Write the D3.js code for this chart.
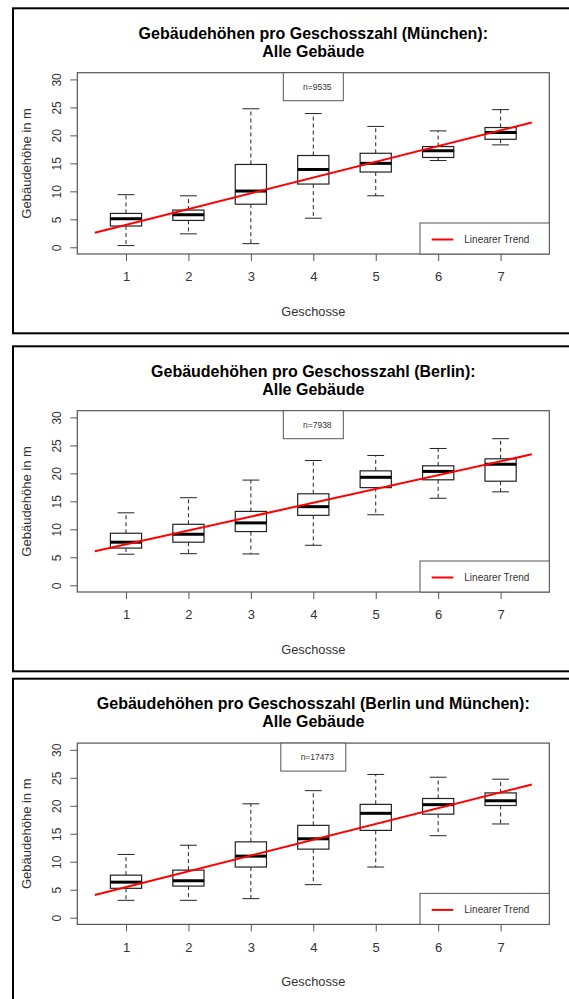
<!DOCTYPE html>
<html>
<head>
<meta charset="utf-8">
<script src="https://cdn.jsdelivr.net/npm/d3@7"></script>
<style>
  html, body { margin: 0; padding: 0; background: #fff; }
  svg { display: block; font-family: "Liberation Sans", Arial, sans-serif; }
</style>
</head>
<body>
<svg id="chart" width="569" height="999"></svg>
<script>
// Number of storeys (x categories)
const geschosse = [1, 2, 3, 4, 5, 6, 7];
const yTicks = [0, 5, 10, 15, 20, 25, 30];

// München: five-number summaries per storey count
const muenchenLow    = [0.3, 2.4, 0.65, 5.2, 9.2, 15.5, 18.3];
const muenchenQ1     = [3.8, 4.8, 7.7, 11.3, 13.45, 16.05, 19.3];
const muenchenMedian = [5.1, 5.8, 10.05, 13.9, 15.0, 17.25, 20.5];
const muenchenQ3     = [6.05, 6.65, 14.8, 16.4, 16.8, 18.0, 21.4];
const muenchenHigh   = [9.4, 9.2, 24.75, 23.9, 21.6, 20.8, 24.6];
const muenchenTrend  = [2.6, 22.3];   // fitted values at x = 0.5 and x = 7.5

// Berlin
const berlinLow    = [5.55, 5.65, 5.6, 7.15, 12.6, 15.55, 16.7];
const berlinQ1     = [6.65, 7.7, 9.6, 12.5, 17.45, 18.85, 18.6];
const berlinMedian = [7.7, 9.1, 11.15, 14.05, 19.3, 20.35, 21.65];
const berlinQ3     = [9.3, 10.9, 13.2, 16.35, 20.45, 21.35, 22.6];
const berlinHigh   = [12.95, 15.65, 18.8, 22.3, 23.2, 24.45, 26.2];
const berlinTrend  = [6.1, 23.4];

// Berlin und München combined
const beideLow    = [3.1, 3.1, 3.4, 5.9, 9.05, 14.65, 16.75];
const beideQ1     = [5.25, 5.65, 9.05, 12.25, 15.6, 18.5, 20.05];
const beideMedian = [6.35, 6.6, 11.0, 14.1, 18.65, 20.2, 20.9];
const beideQ3     = [7.6, 8.5, 13.55, 16.5, 20.25, 21.3, 22.3];
const beideHigh   = [11.3, 12.95, 20.35, 22.7, 25.6, 25.1, 24.75];
const beideTrend  = [4.05, 23.8];

const panels = [
  { title: "Gebäudehöhen pro Geschosszahl (München):", n: "n=9535",
    low: muenchenLow, q1: muenchenQ1, med: muenchenMedian, q3: muenchenQ3, high: muenchenHigh,
    trend: muenchenTrend, dy: 0, frameH: 325, nBoxW: 60 },
  { title: "Gebäudehöhen pro Geschosszahl (Berlin):", n: "n=7938",
    low: berlinLow, q1: berlinQ1, med: berlinMedian, q3: berlinQ3, high: berlinHigh,
    trend: berlinTrend, dy: 338, frameH: 325, nBoxW: 60 },
  { title: "Gebäudehöhen pro Geschosszahl (Berlin und München):", n: "n=17473",
    low: beideLow, q1: beideQ1, med: beideMedian, q3: beideQ3, high: beideHigh,
    trend: beideTrend, dy: 670.4, frameH: 400, nBoxW: 65 }
];

const svg = d3.select("#chart");

const plotL = 77.3, plotR = 549.3, plotT = 72.7, plotB = 254;
const x = d3.scaleLinear().domain([0.22, 7.78]).range([plotL, plotR]);
const yBase = d3.scaleLinear().domain([-1.2, 31.2]).range([plotB, plotT]);

const boxHalf = 0.25, stapleHalf = 0.135;
const ink = "#222", frame = "#555";

panels.forEach(p => {
  const g = svg.append("g").attr("transform", `translate(0,${p.dy})`);
  const y = yBase;

  // outer figure frame
  g.append("rect")
    .attr("x", 13).attr("y", 8.3)
    .attr("width", 600).attr("height", p.frameH)
    .attr("fill", "none").attr("stroke", "#000").attr("stroke-width", 2);

  // title
  const cx = (plotL + plotR) / 2;
  const t = g.append("text").attr("text-anchor", "middle")
    .attr("font-weight", "bold").attr("font-size", 16).attr("fill", "#000");
  t.append("tspan").attr("x", cx).attr("y", 38.5).text(p.title);
  t.append("tspan").attr("x", cx).attr("y", 56.5).text("Alle Gebäude");

  // y axis
  const yAxis = g.append("g").attr("transform", `translate(${plotL},0)`)
    .call(d3.axisLeft(y).tickValues(yTicks).tickSize(7).tickPadding(0).tickFormat(d3.format("d")));
  yAxis.select(".domain").remove();
  yAxis.selectAll(".tick line").attr("stroke", frame);
  yAxis.selectAll(".tick text")
    .attr("font-size", 12).attr("fill", "#333")
    .attr("font-family", "Liberation Sans, Arial, sans-serif")
    .attr("transform", "translate(-21,0) rotate(-90)")
    .attr("text-anchor", "middle").attr("x", 0).attr("dy", "0.35em");

  // x axis
  const xAxis = g.append("g").attr("transform", `translate(0,${plotB})`)
    .call(d3.axisBottom(x).tickValues(geschosse).tickSize(7).tickPadding(11).tickFormat(d3.format("d")));
  xAxis.select(".domain").remove();
  xAxis.selectAll(".tick line").attr("stroke", frame);
  xAxis.selectAll(".tick text")
    .attr("font-size", 13).attr("fill", "#333")
    .attr("font-family", "Liberation Sans, Arial, sans-serif");

  // axis titles
  g.append("text")
    .attr("transform", `translate(31,${(plotT + plotB) / 2}) rotate(-90)`)
    .attr("text-anchor", "middle").attr("font-size", 13).attr("fill", "#333")
    .text("Gebäudehöhe in m");
  g.append("text")
    .attr("x", cx).attr("y", 315.5)
    .attr("text-anchor", "middle").attr("font-size", 12.8).attr("fill", "#333")
    .text("Geschosse");

  // boxplots
  const boxes = g.append("g");
  geschosse.forEach((k, i) => {
    const b = boxes.append("g");
    // whiskers (dashed)
    b.append("line").attr("x1", x(k)).attr("x2", x(k))
      .attr("y1", y(p.q3[i])).attr("y2", y(p.high[i]))
      .attr("stroke", ink).attr("stroke-dasharray", "4,3");
    b.append("line").attr("x1", x(k)).attr("x2", x(k))
      .attr("y1", y(p.q1[i])).attr("y2", y(p.low[i]))
      .attr("stroke", ink).attr("stroke-dasharray", "4,3");
    // staples
    [p.high[i], p.low[i]].forEach(v => {
      b.append("line").attr("x1", x(k - stapleHalf)).attr("x2", x(k + stapleHalf))
        .attr("y1", y(v)).attr("y2", y(v)).attr("stroke", ink);
    });
    // box
    b.append("rect")
      .attr("x", x(k - boxHalf)).attr("width", x(k + boxHalf) - x(k - boxHalf))
      .attr("y", y(p.q3[i])).attr("height", y(p.q1[i]) - y(p.q3[i]))
      .attr("fill", "#fff").attr("stroke", ink).attr("stroke-width", 1.2);
    // median
    b.append("line").attr("x1", x(k - boxHalf)).attr("x2", x(k + boxHalf))
      .attr("y1", y(p.med[i])).attr("y2", y(p.med[i]))
      .attr("stroke", "#000").attr("stroke-width", 3);
  });

  // linear trend
  g.append("line")
    .attr("x1", x(0.5)).attr("y1", y(p.trend[0]))
    .attr("x2", x(7.5)).attr("y2", y(p.trend[1]))
    .attr("stroke", "#ff0000").attr("stroke-width", 2);

  // plot frame
  g.append("rect")
    .attr("x", plotL).attr("y", plotT)
    .attr("width", plotR - plotL).attr("height", plotB - plotT)
    .attr("fill", "none").attr("stroke", frame).attr("stroke-width", 1.2);

  // sample size box (top centre)
  const nx = cx - p.nBoxW / 2;
  g.append("rect")
    .attr("x", nx).attr("y", plotT)
    .attr("width", p.nBoxW).attr("height", 28)
    .attr("fill", "#fff").attr("stroke", frame).attr("stroke-width", 1);
  g.append("text")
    .attr("x", cx + 4).attr("y", plotT + 17)
    .attr("text-anchor", "middle").attr("font-size", 8.5).attr("fill", "#333")
    .text(p.n);

  // legend (bottom right)
  const lx = 420, ly = plotB - 31;
  g.append("rect")
    .attr("x", lx).attr("y", ly)
    .attr("width", plotR - lx).attr("height", plotB - ly)
    .attr("fill", "#fff").attr("stroke", frame).attr("stroke-width", 1);
  g.append("line")
    .attr("x1", 431.7).attr("x2", 453.3)
    .attr("y1", ly + 16.5).attr("y2", ly + 16.5)
    .attr("stroke", "#ff0000").attr("stroke-width", 2);
  g.append("text")
    .attr("x", 464.3).attr("y", ly + 20)
    .attr("font-size", 10).attr("fill", "#333")
    .text("Linearer Trend");
});
</script>
</body>
</html>
